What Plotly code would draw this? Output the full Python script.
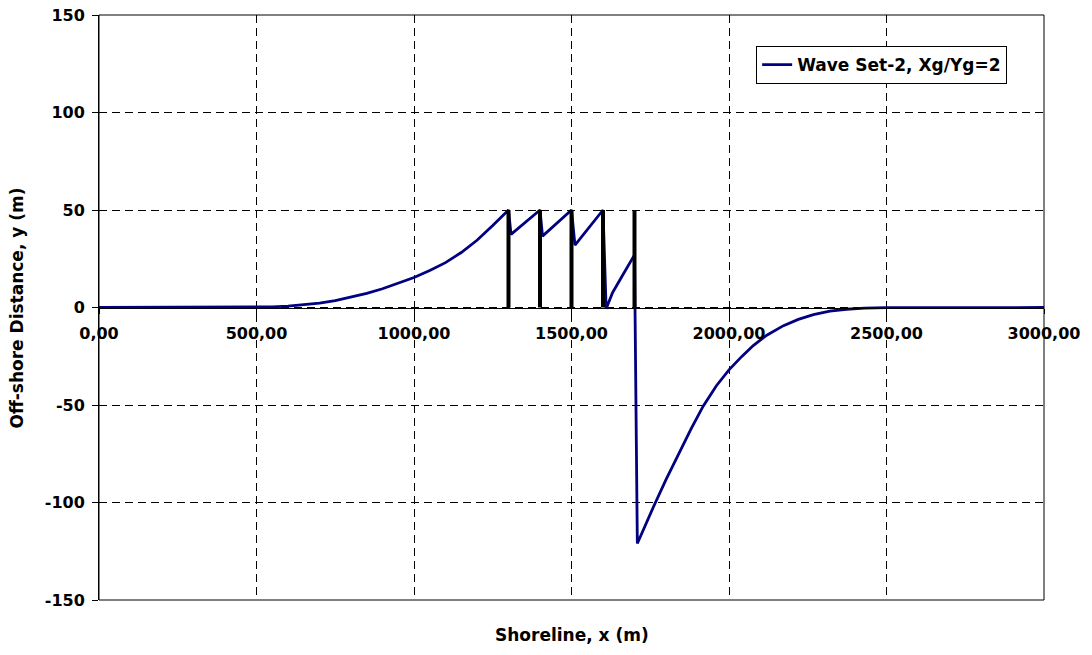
import plotly.graph_objects as go

# Shoreline data
shore_x = [0, 400, 450, 500, 550, 600, 650, 700, 750, 800, 850, 900, 950, 1000, 1050, 1100,
           1150, 1200, 1250, 1300, 1308, 1400, 1408, 1500, 1511, 1600, 1610, 1630, 1654, 1680,
           1700, 1709, 1730, 1760, 1800, 1844, 1880, 1918, 1960, 2000, 2040, 2077, 2120, 2173,
           2220, 2268, 2320, 2373, 2430, 2500, 3000]
shore_y = [0, 0, 0.05, 0.15, 0.35, 0.7, 1.3, 2.2, 3.5, 5.2, 7.2, 9.6, 12.3, 15.4, 19.0, 23.0,
           28.2, 34.5, 42.0, 50, 37.5, 50, 36.6, 50, 32, 50, -0.6, 7.5, 14.2, 21.5,
           27, -121, -113.2, -102.3, -88.3, -73.6, -62.1, -50.6, -40.1, -32, -25.2, -19.5,
           -14.2, -9.3, -6.1, -3.7, -1.9, -0.9, -0.3, -0.1, 0]

# Groynes
groyne_x = [1300, 1400, 1500, 1600, 1700]
groyne_len = [50, 50, 50, 50, 50]

x_tickvals = [0, 500, 1000, 1500, 2000, 2500, 3000]
x_ticktext = ["0,00", "500,00", "1000,00", "1500,00", "2000,00", "2500,00", "3000,00"]
y_tickvals = [-150, -100, -50, 0, 50, 100, 150]
y_ticktext = ["-150", "-100", "-50", "0", "50", "100", "150"]

series_name = "Wave Set-2, Xg/Yg=2"

gx, gy = [], []
for g, L in zip(groyne_x, groyne_len):
    gx += [g, g, None]
    gy += [0, L, None]

FONT = "DejaVu Sans"

fig = go.Figure()
fig.add_trace(go.Scatter(x=shore_x, y=shore_y, mode="lines", name=series_name,
                         line=dict(color="#000080", width=2.8)))
fig.add_trace(go.Scatter(x=gx, y=gy, mode="lines", showlegend=False,
                         line=dict(color="black", width=4)))

fig.update_layout(
    width=1092, height=655,
    margin=dict(l=99, r=48, t=15, b=55, autoexpand=False),
    paper_bgcolor="white", plot_bgcolor="white",
    font=dict(family=FONT, size=16, color="black", weight="bold"),
    showlegend=True,
    legend=dict(x=0.961, y=0.947, xanchor="right", yanchor="top",
                bgcolor="white", bordercolor="black", borderwidth=1,
                font=dict(family=FONT, size=17, color="black", weight="bold")),
    xaxis=dict(range=[0, 3000], tickvals=x_tickvals, ticktext=x_ticktext,
               anchor="free", position=0.5, automargin=False,
               showline=True, linecolor="black", linewidth=1,
               ticks="outside", ticklen=5, tickcolor="black",
               ticklabelstandoff=6,
               showgrid=True, gridcolor="black", gridwidth=1, griddash="8px,5px",
               zeroline=False,
               tickfont=dict(family=FONT, size=16, color="black", weight="bold")),
    yaxis=dict(range=[-150, 150], tickvals=y_tickvals, ticktext=y_ticktext,
               automargin=False,
               showline=True, linecolor="black", linewidth=1,
               ticks="outside", ticklen=6, tickcolor="black",
               ticklabelstandoff=4,
               showgrid=True, gridcolor="black", gridwidth=1, griddash="8px,5px",
               zeroline=False,
               tickfont=dict(family=FONT, size=16, color="black", weight="bold")),
    shapes=[dict(type="rect", xref="paper", yref="paper", x0=0, x1=1, y0=0, y1=1,
                 line=dict(color="black", width=1), fillcolor="rgba(0,0,0,0)", layer="above")],
    annotations=[
        dict(text="Shoreline, x (m)", xref="paper", yref="paper", x=0.5, y=-0.06,
             xanchor="center", yanchor="middle", showarrow=False,
             font=dict(family=FONT, size=17, color="black", weight="bold")),
        dict(text="Off-shore Distance, y (m)", xref="paper", yref="paper", x=-0.0868, y=0.5,
             xanchor="center", yanchor="middle", showarrow=False, textangle=-90,
             font=dict(family=FONT, size=17, color="black", weight="bold")),
    ],
)

fig.write_html("out.html")
